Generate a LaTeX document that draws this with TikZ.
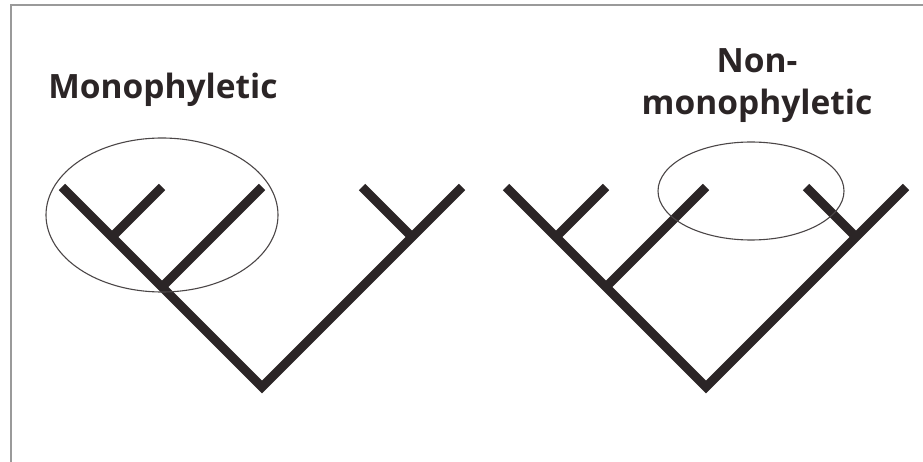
\documentclass[tikz,border=0pt]{standalone}
\usepackage{fontspec}
\setmainfont{Open Sans}
\definecolor{ink}{HTML}{2B2526}
\definecolor{framegray}{HTML}{9A9A9A}
\tikzset{
  branch/.style={line width=9pt,draw=ink,line cap=butt,line join=miter},
  ring/.style={line width=1.1pt,draw=ink!85},
  grouplabel/.style={font=\bfseries\fontsize{33.5}{40}\selectfont,text=ink,anchor=base,inner sep=0pt}
}
\begin{document}
\begin{tikzpicture}[x=1pt,y=-1pt]
  \useasboundingbox (0,0) rectangle (923,462);
  \draw[framegray,line width=1.4pt] (11,462)--(11,5)--(923,5);
  % monophyletic tree
  \coordinate (rootA) at (262,387);
  \coordinate (tipA1) at (62,187);
  \coordinate (tipA5) at (462,187);
  \coordinate (nodeA1) at (112,237);
  \coordinate (nodeA2) at (162,287);
  \coordinate (nodeA3) at (412,237);
  \coordinate (tipA2) at (162,187);
  \coordinate (tipA3) at (262,187);
  \coordinate (tipA4) at (362,187);
  \draw[branch] (tipA1)--(rootA)--(tipA5);
  \draw[branch] (nodeA1)--(tipA2);
  \draw[branch] (nodeA2)--(tipA3);
  \draw[branch] (nodeA3)--(tipA4);
  \draw[ring] (162,215) ellipse (116pt and 77pt);
  % non-monophyletic tree
  \coordinate (rootB) at (706,387);
  \coordinate (tipB1) at (506,187);
  \coordinate (tipB5) at (906,187);
  \coordinate (nodeB1) at (556,237);
  \coordinate (nodeB2) at (606,287);
  \coordinate (nodeB3) at (856,237);
  \coordinate (tipB2) at (606,187);
  \coordinate (tipB3) at (706,187);
  \coordinate (tipB4) at (806,187);
  \draw[branch] (tipB1)--(rootB)--(tipB5);
  \draw[branch] (nodeB1)--(tipB2);
  \draw[branch] (nodeB2)--(tipB3);
  \draw[branch] (nodeB3)--(tipB4);
  \draw[ring] (751,191) ellipse (93pt and 49pt);
  % labels
  \node[grouplabel] (mono) at (163,99) {Monophyletic};
  \node[grouplabel] (nonmonoA) at (757,73) {Non-};
  \node[grouplabel] (nonmonoB) at (757,115) {monophyletic};
\end{tikzpicture}
\end{document}
